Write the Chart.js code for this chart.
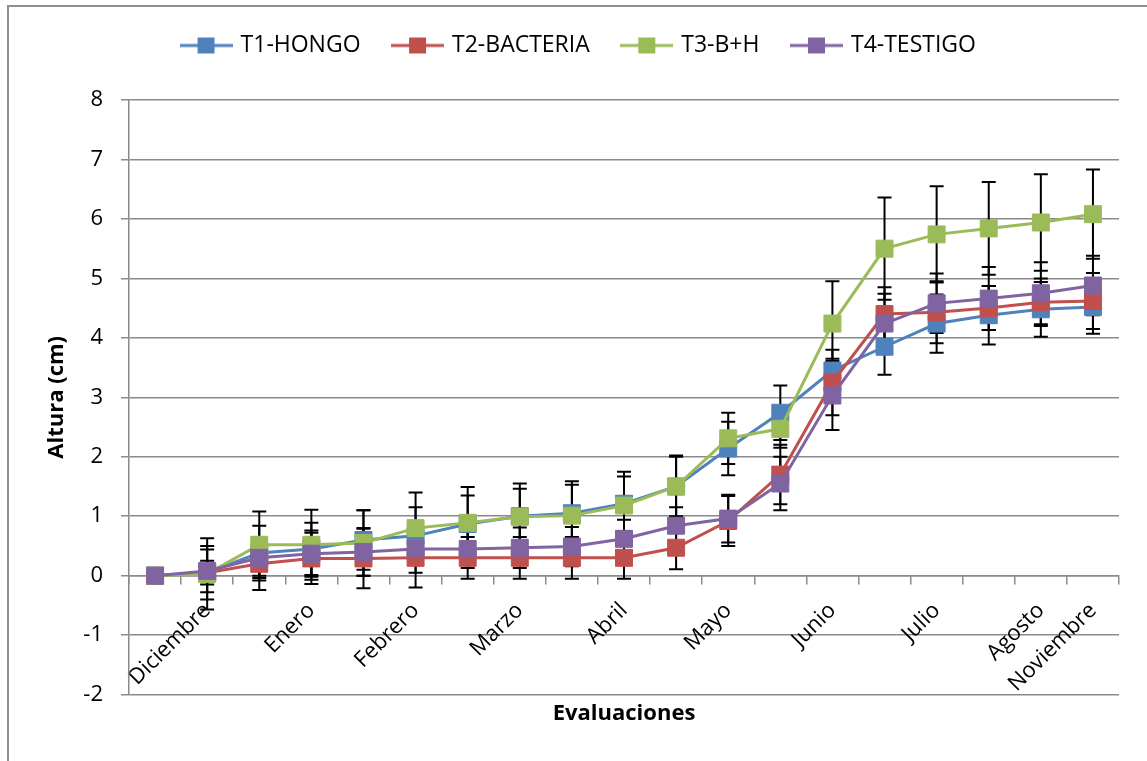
<!DOCTYPE html>
<html>
<head>
<meta charset="utf-8">
<script src="https://cdn.jsdelivr.net/npm/chart.js@4.4.1/dist/chart.umd.min.js"></script>
<style>
	html, body { margin: 0; padding: 0; background: #fff; }
	body { width: 1147px; height: 761px; overflow: hidden; position: relative; }
	#marco { position: absolute; left: 7px; top: 5px; width: 1200px; height: 800px; border-left: 2px solid #8e8e8e; border-top: 2px solid #8e8e8e; }
	#caja { position: absolute; left: 0; top: 0; width: 1147px; height: 761px; }
</style>
</head>
<body>
<div id="marco"></div>
<div id="caja"><canvas id="grafico"></canvas></div>
<script>
// categorias (solo se rotulan algunas, como en el original)
const meses = ['', 'Diciembre', '', 'Enero', '', 'Febrero', '', 'Marzo', '', 'Abril', '', 'Mayo', '', 'Junio', '', 'Julio', '', 'Agosto', 'Noviembre'];

const hongo = [0, 0.05, 0.38, 0.45, 0.6, 0.67, 0.87, 1.0, 1.05, 1.21, 1.5, 2.14, 2.74, 3.45, 3.85, 4.24, 4.38, 4.48, 4.52];
const hongoErr = [0, 0.2, 0.46, 0.44, 0.5, 0.48, 0.48, 0.46, 0.48, 0.46, 0.5, 0.45, 0.46, 0.2, 0.47, 0.49, 0.49, 0.46, 0.45];

const bacteria = [0, 0.05, 0.2, 0.29, 0.29, 0.3, 0.3, 0.3, 0.3, 0.3, 0.47, 0.92, 1.7, 3.25, 4.4, 4.43, 4.5, 4.6, 4.62];
const bacteriaErr = [0, 0.45, 0.44, 0.43, 0.5, 0.5, 0.35, 0.35, 0.35, 0.35, 0.36, 0.42, 0.5, 0.55, 0.45, 0.52, 0.37, 0.4, 0.47];

const byh = [0, 0.03, 0.52, 0.52, 0.55, 0.8, 0.89, 0.99, 1.01, 1.18, 1.5, 2.31, 2.47, 4.24, 5.5, 5.74, 5.84, 5.94, 6.08];
const byhErr = [0, 0.6, 0.56, 0.59, 0.55, 0.6, 0.6, 0.56, 0.58, 0.57, 0.52, 0.43, 0.32, 0.71, 0.86, 0.81, 0.78, 0.81, 0.75];

const testigo = [0, 0.08, 0.3, 0.37, 0.4, 0.45, 0.45, 0.47, 0.49, 0.62, 0.84, 0.96, 1.55, 3.03, 4.24, 4.58, 4.66, 4.75, 4.88];
const testigoErr = [0, 0.36, 0.3, 0.39, 0.4, 0.4, 0.32, 0.34, 0.33, 0.32, 0.31, 0.4, 0.45, 0.58, 0.5, 0.5, 0.53, 0.52, 0.5];

const nombres = ['T1-HONGO', 'T2-BACTERIA', 'T3-B+H', 'T4-TESTIGO'];
const colores = ['#4F81BD', '#C0504D', '#9BBB59', '#8064A2'];
const valores = [hongo, bacteria, byh, testigo];
const errores = [hongoErr, bacteriaErr, byhErr, testigoErr];

Chart.defaults.font.family = "'Open Sans', sans-serif";
Chart.defaults.color = '#000';

// icono de leyenda: linea con marcador cuadrado
function iconoLeyenda(color) {
	const c = document.createElement('canvas');
	c.width = 53;
	c.height = 18;
	const g = c.getContext('2d');
	g.strokeStyle = color;
	g.lineWidth = 3;
	g.beginPath();
	g.moveTo(0, 9);
	g.lineTo(53, 9);
	g.stroke();
	g.fillStyle = color;
	g.fillRect(18, 1, 17, 16);
	return c;
}
const iconos = colores.map(iconoLeyenda);

// barras de error por debajo de las series
const barrasError = {
	id: 'barrasError',
	beforeDatasetsDraw(chart) {
		const { ctx } = chart;
		const ys = chart.scales.y;
		ctx.save();
		ctx.strokeStyle = '#000';
		ctx.lineWidth = 2;
		chart.data.datasets.forEach((ds, d) => {
			const meta = chart.getDatasetMeta(d);
			meta.data.forEach((pt, i) => {
				const e = ds.errores[i];
				if (!e) return;
				const yA = ys.getPixelForValue(ds.data[i] + e);
				const yB = ys.getPixelForValue(ds.data[i] - e);
				ctx.beginPath();
				ctx.moveTo(pt.x, yA);
				ctx.lineTo(pt.x, yB);
				ctx.moveTo(pt.x - 7, yA);
				ctx.lineTo(pt.x + 7, yA);
				ctx.moveTo(pt.x - 7, yB);
				ctx.lineTo(pt.x + 7, yB);
				ctx.stroke();
			});
		});
		ctx.restore();
	},
};

const gris = '#8a8a8a';

new Chart(document.getElementById('grafico'), {
	type: 'line',
	data: {
		labels: meses,
		datasets: nombres.map((n, k) => ({
			label: n,
			data: valores[k],
			errores: errores[k],
			borderColor: colores[k],
			backgroundColor: colores[k],
			borderWidth: 3,
			pointStyle: 'rect',
			pointRadius: 12,
			pointBorderWidth: 1,
			pointBorderColor: colores[k],
			pointBackgroundColor: colores[k],
			tension: 0,
			order: 4 - k,
		})),
	},
	options: {
		responsive: true,
		maintainAspectRatio: false,
		animation: false,
		layout: { padding: { left: 40, right: 28, top: 0, bottom: 0 } },
		plugins: {
			tooltip: { enabled: false },
			legend: {
				position: 'top',
				labels: {
					usePointStyle: true,
					pointStyleWidth: 46,
					padding: 34,
					font: { size: 23 },
					color: '#000',
					generateLabels(chart) {
						const items = Chart.defaults.plugins.legend.labels.generateLabels(chart);
						items.forEach((it) => { it.pointStyle = iconos[it.datasetIndex]; });
						return items.sort((a, b) => a.datasetIndex - b.datasetIndex);
					},
				},
			},
		},
		scales: {
			x: {
				type: 'category',
				position: { y: 0 },
				offset: true,
				grid: { offset: true, drawOnChartArea: false, color: gris, lineWidth: 1.5, tickLength: 8 },
				border: { color: gris, width: 1.5 },
				ticks: { autoSkip: false, maxRotation: 45, minRotation: 45, padding: 14, font: { size: 22 }, color: '#000' },
			},
			xTitulo: {
				type: 'category',
				position: 'bottom',
				grid: { display: false, drawTicks: false },
				border: { display: false },
				ticks: { display: false },
				title: {
					display: true,
					text: 'Evaluaciones',
					font: { size: 22, weight: 'bold', lineHeight: 1.2 },
					padding: { top: 6, bottom: 34 },
					color: '#000',
				},
			},
			xArriba: {
				type: 'category',
				position: 'top',
				grid: { display: false, drawTicks: false },
				border: { display: false },
				ticks: { display: false },
				afterFit: (s) => { s.height = 33; },
			},
			y: {
				min: -2,
				max: 8,
				ticks: { stepSize: 1, padding: 18, font: { size: 22 }, color: '#000' },
				grid: { color: gris, lineWidth: 1.5, tickLength: 8 },
				border: { color: gris, width: 1.5 },
				title: {
					display: true,
					text: 'Altura (cm)',
					font: { size: 22, weight: 'bold', lineHeight: 1 },
					padding: { top: 6, bottom: 0 },
					color: '#000',
				},
				afterFit: (s) => { s.width = 89; },
			},
		},
	},
	plugins: [barrasError],
});
</script>
</body>
</html>
